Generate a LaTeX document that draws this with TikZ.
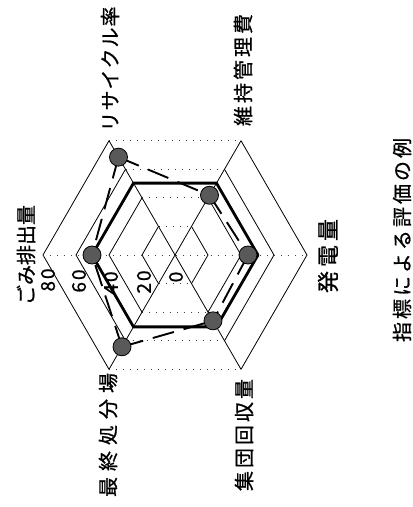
\documentclass[tikz,border=0pt]{standalone}
\usepackage{fontspec}
\newfontfamily\jp{Noto Sans CJK JP}[FakeBold=0.8]
\begin{document}
\begin{tikzpicture}[x=1pt,y=-1pt,
  gridline/.style={line width=0.8pt},
  griddot/.style={line width=0.9pt, dash pattern=on 1pt off 6pt, black!75},
  baseline/.style={line width=2.8pt, line join=round},
  series/.style={line width=1.9pt, dash pattern=on 22pt off 10pt},
  markdot/.style={circle, draw=black, line width=0.8pt, fill=black!65, minimum size=18pt, inner sep=0pt},
  lab/.style={rotate=90, font=\jp\fontsize{20}{24}\selectfont, inner sep=0pt},
  num/.style={rotate=90, font=\jp\fontsize{19}{20}\selectfont, inner sep=0pt}]
\useasboundingbox (0,0) rectangle (413,507);
\fill[white] (0,0) rectangle (413,507);
% scale labels
\node[num] (n80) at (48,280) {8\kern2pt 0};
\node[num] (n60) at (79,281) {6\kern2pt 0};
\node[num] (n40) at (111,283) {4\kern2pt 0};
\node[num] (n20) at (144,282) {2\kern2pt 0};
\node[num] (n0) at (176,277) {0};
\begin{scope}[shift={(175,255)}, yscale=-1]
  \foreach \v in {20,40,60,80} {
    \pgfmathsetmacro\R{1.65*\v}
    \draw[gridline] (120:\R) -- (180:\R) -- (240:\R);
    \draw[gridline] (60:\R) -- (0:\R) -- (300:\R);
    \draw[griddot] (120:\R) -- (60:\R);
    \draw[griddot] (240:\R) -- (300:\R);
  }
  \draw[gridline] (120:132) -- (300:132);
  \draw[gridline] (60:132) -- (240:132);
  \draw[griddot] (180:132) -- (0:132);
  % reference hexagon (thick)
  \draw[baseline] (0:83) -- (60:83) -- (120:83) -- (180:83) -- (240:83) -- (300:83) -- cycle;
  % series points
  \coordinate (p1) at (180:83);
  \coordinate (p2) at (120:113);
  \coordinate (p3) at (60:69);
  \coordinate (p4) at (0:73);
  \coordinate (p5) at (300:76);
  \coordinate (p6) at (240:106);
  \draw[series] (p2) -- (p3);
  \draw[series] (p3) -- (p4);
  \draw[series] (p4) -- (p5);
  \draw[series] (p6) -- (p5);
  \draw[series] (p6) -- (p1);
  \draw[series] (p2) -- (p1);
  \node[markdot] (m1) at (p1) {};
  \node[markdot] (m2) at (p2) {};
  \node[markdot] (m3) at (p3) {};
  \node[markdot] (m4) at (p4) {};
  \node[markdot] (m5) at (p5) {};
  \node[markdot] (m6) at (p6) {};
\end{scope}
% axis labels
\node[lab] (a1) at (26,255) {ごみ排出量};
\node[lab] (a2) at (110,69) {リ\kern1pt サ\kern1pt イ\kern1pt ク\kern1pt ル\kern1pt 率};
\node[lab] (a3) at (243,70) {維\kern3pt 持\kern3pt 管\kern3pt 理\kern3pt 費};
\node[lab, font=\jp\fontsize{22}{24}\selectfont] (a4) at (328,256) {発\kern4pt 電\kern4pt 量};
\node[lab] (a5) at (244,435) {集\kern3pt 団\kern3pt 回\kern3pt 収\kern3pt 量};
\node[lab] (a6) at (108,435) {最\kern6pt 終\kern6pt 処\kern6pt 分\kern6pt 場};
\node[lab] (title) at (402,240) {指\kern3pt 標\kern3pt に\kern3pt よ\kern3pt る\kern3pt 評\kern3pt 価\kern3pt の\kern3pt 例};
\end{tikzpicture}
\end{document}
